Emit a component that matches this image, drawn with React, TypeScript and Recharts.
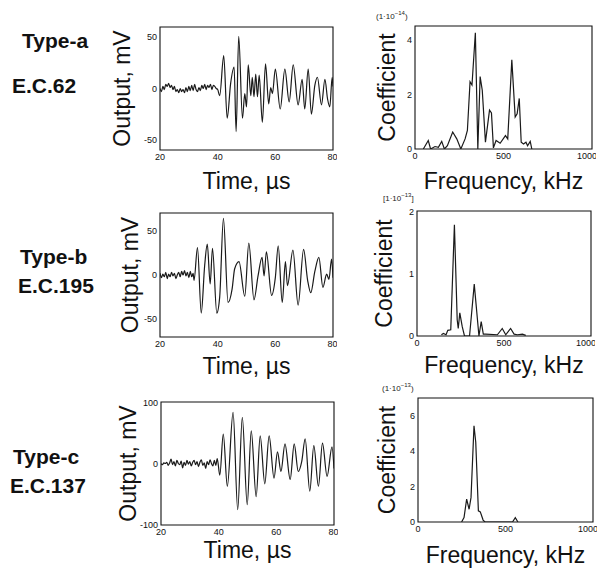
import { LineChart, Line, XAxis, YAxis, ReferenceArea } from 'recharts';

// Type-a, E.C.62 : waveform (µs, mV)
const timeA = [
  20, 20.5, 21, 21.5, 22, 22.5, 23, 23.5, 24, 24.5, 25, 25.5, 26, 26.5, 27, 27.5, 28, 28.5, 29, 29.5,
  30, 30.5, 31, 31.5, 32, 32.5, 33, 33.5, 34, 34.5, 35, 35.5, 36, 36.5, 37, 37.5, 38, 38.5, 39, 39.5, 40,
  40.7, 42.1, 43.3, 44.5, 45.7, 46.4, 47.3, 48.6, 49.4, 50.0, 50.6, 51.5, 52.0, 52.6, 53.2, 53.8, 54.4,
  55.5, 56.6, 57.7, 58.4, 59.0, 60.0, 61.7, 63.3, 64.8, 66.2, 67.9, 69.3, 70.2, 71.4, 72.5, 73.7, 74.6,
  76.0, 77.2, 78.1, 78.9, 79.7, 80,
];
const outputA = [
  0, -3, 2, -1, 4, 2, 5, 1, 3, -1, 2, -3, -1, -4, 0, -3, -1, -4, 1, -3,
  2, -2, 3, -2, 4, -1, -3, 1, -2, 3, 0, 4, -1, 3, 1, 4, -1, 3, 2, 0, -1,
  -7, 32, -29, 5, 21, -42, 51, -29, -5, -18, 23, -7, 11, -8, 14, -8, 13,
  -33, 24, -15, 1, -5, 19, -20, 19, -13, 23, -16, 9, -20, 19, -25, 3, 11,
  -16, 9, -10, -18, 11, 2,
];

// Type-b, E.C.195
const timeB = [
  20, 20.5, 21, 21.5, 22, 22.5, 23, 23.5, 24, 24.5, 25, 25.5, 26, 26.5, 27, 27.5, 28, 28.5, 29, 29.5,
  30, 30.5, 31, 31.5, 31.8, 33.0, 34.3, 35.5, 36.4, 37.4, 38.2, 39.7, 40.7, 42.0, 43.6, 45.0, 45.9,
  47.4, 49.4, 50.8, 52.6, 54.0, 55.4, 56.1, 56.9, 58.7, 60.0, 61.0, 62.4, 63.5, 64.2, 66.1, 67.9, 69.8,
  71.2, 72.3, 73.7, 75.1, 76.5, 77.8, 78.6, 79.5, 80,
];
const outputB = [
  2, -3, 1, -2, 3, -4, 1, -2, 3, -1, 2, -4, 0, 3, -2, 4, 0, 5, -1, 3,
  -3, 4, -2, 2, -6, 31, -43, 11, 35, -10, 30, -43, -25, 64, -31, -16, 7,
  15, -24, 36, -28, -1, 20, -1, 26, -23, -3, 33, -31, 15, -12, 28, -34, 29,
  -6, -20, 4, 20, -14, 1, -5, 18, -3,
];

// Type-c, E.C.137
const timeC = [
  20, 20.5, 21, 21.5, 22, 22.5, 23, 23.5, 24, 24.5, 25, 25.5, 26, 26.5, 27, 27.5, 28, 28.5, 29, 29.5,
  30, 30.5, 31, 31.5, 32, 32.5, 33, 33.5, 34, 34.5, 35, 35.5, 36, 36.5, 37, 37.5, 38, 38.5, 39, 39.5,
  40.4, 41.6, 43.0, 45.0, 46.6, 48.2, 49.9, 51.3, 53.0, 54.4, 56.0, 57.5, 59.2, 60.4, 61.6, 63.0, 64.8,
  66.2, 67.6, 68.8, 70.0, 71.6, 73.0, 74.6, 76.0, 77.6, 79.3, 80,
];
const outputC = [
  0, -2, 1, 0, 2, -3, 1, 7, -2, 3, -4, 5, 0, -2, 4, -7, 2, -3, 5, -1,
  3, -4, 2, 5, -2, 3, -5, 2, 6, -3, 1, -8, 3, -2, 6, 0, -4, 5, -3, 8,
  -19, 48, -37, 83, -75, 75, -67, 53, -54, 45, -33, 45, -24, 19, -13, 32, -26,
  32, -13, 3, 40, -45, 29, -37, 33, -21, 27, -8,
];

// spectra (kHz, coefficient)
const freqA = [
  47, 75, 88, 113, 132, 151, 166, 183, 213, 236, 259, 283, 296, 311, 322, 341, 355, 368, 380, 398,
  421, 432, 443, 458, 481, 511, 524, 547, 566, 577, 589, 600, 613, 627, 636, 651, 660,
];
const coefA = [
  0, 0.31, 0, 0.09, 0.06, 0.28, 0, 0.12, 0.62, 0.37, 0, 0.37, 0.68, 2.46, 2.34, 4.25, 0, 2.65, 2.15, 0.25,
  1.42, 1.32, 0.04, 0.31, 0.21, 0.49, 0.37, 3.26, 1.17, 1.29, 1.85, 0.25, 0.18, 0.25, 0.12, 0.28, 0,
];
const freqB = [
  140, 152, 167, 177, 194, 215, 231, 237, 246, 260, 273, 302, 329, 356, 369, 381, 394, 462, 490, 510,
  538, 558, 577, 606, 625,
];
const coefB = [
  0.02, 0.04, 0.02, 0.09, 0.1, 1.78, 0.26, 0.12, 0.37, 0.15, 0, 0, 0.83, 0, 0.23, 0.03, 0.03, 0.02, 0.12, 0.02,
  0.12, 0.03, 0.02, 0.03, 0.01,
];
const freqC = [249, 263, 278, 292, 303, 320, 330, 345, 356, 372, 383, 540, 556, 571];
const coefC = [0, 0.25, 1.29, 0.72, 1.39, 5.43, 4.5, 0.63, 0.57, 0.11, 0, 0, 0.25, 0];

const timeTicks = [20, 40, 60, 80];
const freqTicks = [0, 500, 1000];

const FONT = '"Liberation Sans", Arial, sans-serif';
const PAD = 8; // room under the x label for descenders

const pairs = (xs: number[], ys: number[]) => xs.map((x, i) => ({ x, y: ys[i] }));

type PanelProps = {
  left: number;
  top: number;
  plotW: number;
  plotH: number;
  axisW: number;
  axisH: number;
  labelOffset: number;
  data: { x: number; y: number }[];
  xDomain: [number, number];
  yDomain: [number, number];
  xTicks: number[];
  yTicks: number[];
  xLabel: string;
  yLabel: string;
  curve: 'linear' | 'monotone';
};

function Panel(p: PanelProps) {
  const axisH = p.axisH + PAD;
  const width = p.axisW + p.plotW + 4;
  const height = 4 + p.plotH + axisH;
  const tick = { fontSize: 9, fill: '#111', fontFamily: FONT };
  return (
    <div style={{ position: 'absolute', left: p.left - p.axisW, top: p.top - 4 }}>
      <LineChart width={width} height={height} data={p.data} margin={{ top: 4, right: 4, bottom: 0, left: 0 }}>
        <XAxis
          dataKey="x"
          type="number"
          domain={p.xDomain}
          ticks={p.xTicks}
          allowDataOverflow
          height={axisH}
          axisLine={false}
          tickLine={false}
          tickSize={0}
          tickMargin={4}
          tick={tick}
          label={{ value: p.xLabel, position: 'insideBottom', offset: PAD, fill: '#111', fontSize: 23, fontFamily: FONT }}
        />
        <YAxis
          type="number"
          domain={p.yDomain}
          ticks={p.yTicks}
          allowDataOverflow
          width={p.axisW}
          axisLine={false}
          tickLine={false}
          tickSize={0}
          tickMargin={3}
          tick={tick}
          label={{
            value: p.yLabel,
            angle: -90,
            position: 'insideLeft',
            offset: p.labelOffset,
            fill: '#111',
            fontSize: 23,
            fontFamily: FONT,
            style: { textAnchor: 'middle' },
          }}
        />
        <ReferenceArea
          x1={p.xDomain[0]}
          x2={p.xDomain[1]}
          y1={p.yDomain[0]}
          y2={p.yDomain[1]}
          fill="none"
          stroke="#111"
          strokeWidth={1.1}
        />
        <Line type={p.curve} dataKey="y" stroke="#1a1a1a" strokeWidth={1.2} dot={false} isAnimationActive={false} />
      </LineChart>
    </div>
  );
}

const tag = (left: number, top: number, text: string) => (
  <div style={{ position: 'absolute', left, top, fontFamily: FONT, fontWeight: 700, fontSize: 21, color: '#111', lineHeight: '21px' }}>
    {text}
  </div>
);

const scale = (left: number, top: number, exp: string, open = '(', close = ')') => (
  <div style={{ position: 'absolute', left, top, fontFamily: FONT, fontSize: 8, color: '#222', lineHeight: '10px' }}>
    {open}1·10<sup style={{ fontSize: 6 }}>{exp}</sup>{close}
  </div>
);

export default function App() {
  return (
    <div style={{ position: 'absolute', left: 0, top: 0, width: 601, height: 569, background: '#fff', overflow: 'hidden' }}>
      {tag(22, 30, 'Type-a')}
      {tag(12, 75, 'E.C.62')}
      {tag(20, 246, 'Type-b')}
      {tag(18, 275, 'E.C.195')}
      {tag(13, 446, 'Type-c')}
      {tag(10, 475, 'E.C.137')}

      <Panel left={160} top={27} plotW={173} plotH={123} axisW={60} axisH={39} labelOffset={22}
        data={pairs(timeA, outputA)} xDomain={[20, 80]} yDomain={[-60, 60]} xTicks={timeTicks} yTicks={[-50, 0, 50]}
        xLabel="Time, µs" yLabel="Output, mV" curve="monotone" />
      <Panel left={160} top={213} plotW={173} plotH={124} axisW={60} axisH={37} labelOffset={30}
        data={pairs(timeB, outputB)} xDomain={[20, 80]} yDomain={[-70, 70]} xTicks={timeTicks} yTicks={[-50, 0, 50]}
        xLabel="Time, µs" yLabel="Output, mV" curve="monotone" />
      <Panel left={161} top={402} plotW={173} plotH={123} axisW={61} axisH={33} labelOffset={28}
        data={pairs(timeC, outputC)} xDomain={[20, 80]} yDomain={[-100, 100]} xTicks={timeTicks} yTicks={[-100, 0, 100]}
        xLabel="Time, µs" yLabel="Output, mV" curve="monotone" />

      <Panel left={415} top={26} plotW={177} plotH={123} axisW={45} axisH={40} labelOffset={17}
        data={pairs(freqA, coefA)} xDomain={[0, 1000]} yDomain={[0, 4.5]} xTicks={freqTicks} yTicks={[0, 2, 4]}
        xLabel="Frequency, kHz" yLabel="Coefficient" curve="linear" />
      <Panel left={417} top={211} plotW={174} plotH={125} axisW={47} axisH={37} labelOffset={14}
        data={pairs(freqB, coefB)} xDomain={[0, 1000]} yDomain={[0, 2]} xTicks={freqTicks} yTicks={[0, 1, 2]}
        xLabel="Frequency, kHz" yLabel="Coefficient" curve="linear" />
      <Panel left={418} top={398} plotW={175} plotH={124} axisW={48} axisH={41} labelOffset={17}
        data={pairs(freqC, coefC)} xDomain={[0, 1000]} yDomain={[0, 7]} xTicks={freqTicks} yTicks={[0, 2, 4, 6]}
        xLabel="Frequency, kHz" yLabel="Coefficient" curve="linear" />

      {scale(376, 8, '−14')}
      {scale(383, 190, '−13', '[', ']')}
      {scale(382, 380, '−13')}
    </div>
  );
}
